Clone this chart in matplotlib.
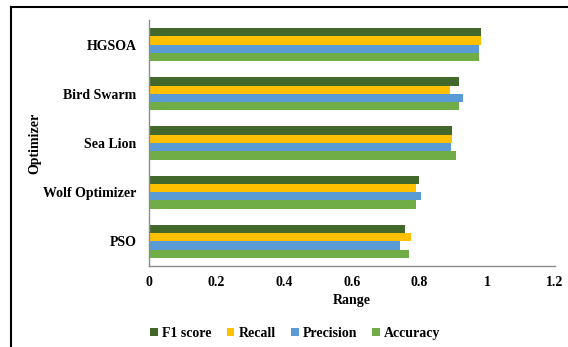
import numpy as np
import matplotlib.pyplot as plt
from matplotlib.lines import Line2D

# Scores per optimizer (bottom to top on the chart)
optimizers = ["PSO", "Wolf Optimizer", "Sea Lion", "Bird Swarm", "HGSOA"]
f1_score = [0.758, 0.797, 0.895, 0.917, 0.98]
recall = [0.773, 0.788, 0.897, 0.89, 0.981]
precision = [0.741, 0.803, 0.892, 0.927, 0.976]
accuracy = [0.769, 0.788, 0.907, 0.917, 0.976]

series = [
    ("F1 score", f1_score, "#43682b"),
    ("Recall", recall, "#ffc000"),
    ("Precision", precision, "#5b9bd5"),
    ("Accuracy", accuracy, "#70ad47"),
]

plt.rcParams["font.family"] = ["Liberation Serif", "DejaVu Serif"]
plt.rcParams["font.weight"] = "bold"

fig = plt.figure(figsize=(5.68, 3.47), dpi=100)
ax = fig.add_axes([0.2623, 0.2334, 0.7148, 0.709])

y = np.arange(len(optimizers))
h = 0.168
offsets = [1.5 * h, 0.5 * h, -0.5 * h, -1.5 * h]
for (name, vals, color), off in zip(series, offsets):
    ax.barh(y + off, vals, height=h, color=color, label=name)

ax.set_xlim(0, 1.2)
ax.set_ylim(-0.5, len(optimizers) - 0.5)
ax.set_xticks([0, 0.2, 0.4, 0.6, 0.8, 1, 1.2])
ax.set_xticklabels(["0", "0.2", "0.4", "0.6", "0.8", "1", "1.2"])
ax.set_yticks(y)
ax.set_yticklabels(optimizers)
ax.tick_params(axis="both", length=0, labelsize=10)
ax.tick_params(axis="x", pad=7)
ax.tick_params(axis="y", pad=9)

for side in ["top", "right"]:
    ax.spines[side].set_visible(False)
for side in ["left", "bottom"]:
    ax.spines[side].set_color("#8c8c8c")
    ax.spines[side].set_linewidth(1.0)

ax.set_xlabel("Range", fontsize=10, fontweight="bold", labelpad=4)
ax.set_ylabel("Optimizer", fontsize=10, fontweight="bold", labelpad=1)

fig.legend(loc="center", bbox_to_anchor=(0.52, 0.04), ncol=4,
           frameon=False, fontsize=10, handlelength=0.55, handleheight=0.55,
           handletextpad=0.3, columnspacing=1.1)

# outer frame (top and left edges)
fig.add_artist(Line2D([0.0194, 1.0], [0.98, 0.98], color="black", lw=1.5,
                      transform=fig.transFigure))
fig.add_artist(Line2D([0.0194, 0.0194], [0.0, 0.98], color="black", lw=1.5,
                      transform=fig.transFigure))

fig.savefig("out.png", dpi=100)
